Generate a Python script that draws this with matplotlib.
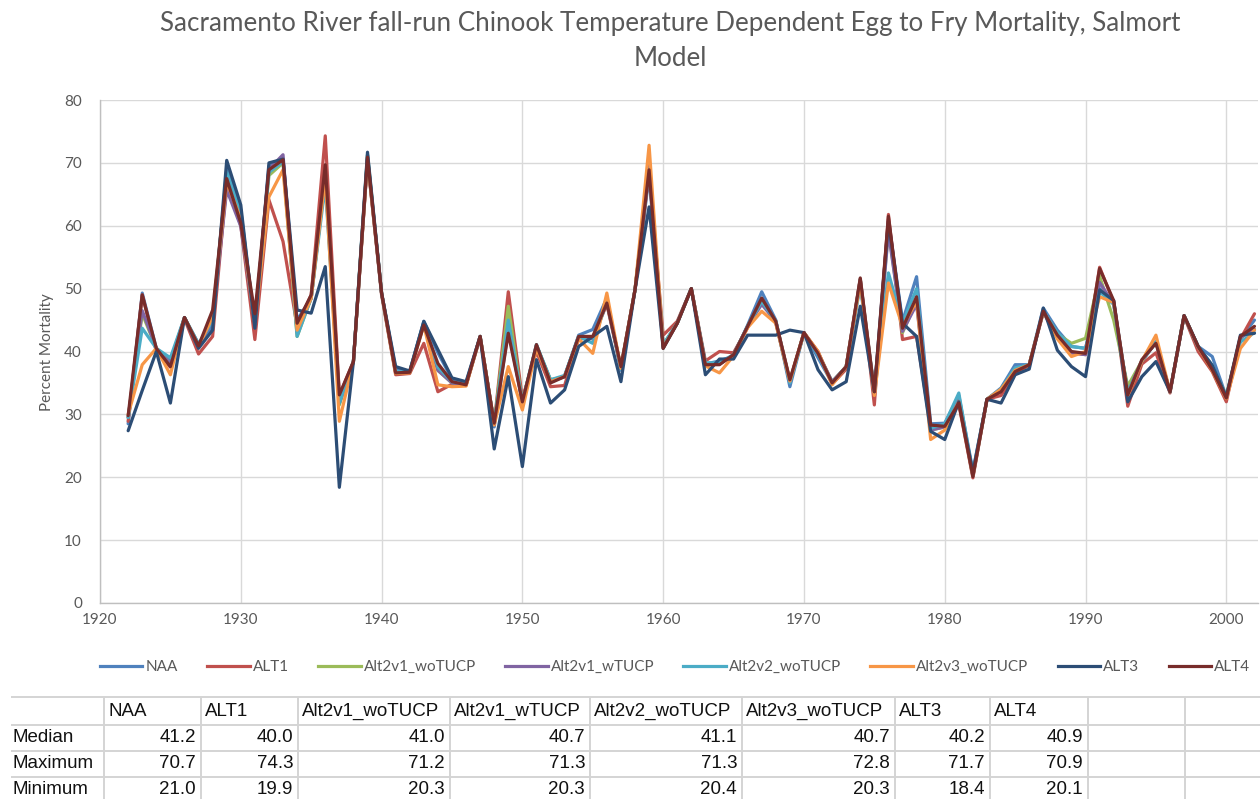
import matplotlib
matplotlib.use("Agg")
import matplotlib.pyplot as plt
from matplotlib.lines import Line2D

# Water years simulated
years = list(range(1922, 2003))

# Percent egg-to-fry mortality by scenario (one value per year, 1922-2002)
naa = [28.5, 49.3, 40.5, 38.5, 45.4, 41.2, 44.0, 69.0, 62.5, 44.0,
       69.5, 70.7, 45.0, 48.5, 68.0, 32.0, 38.4, 70.5, 49.3, 37.2,
       36.8, 44.8, 39.8, 35.6, 35.0, 42.4, 28.0, 43.5, 32.0, 41.0,
       35.3, 36.0, 42.6, 43.5, 48.5, 37.0, 49.8, 68.0, 41.0, 44.5,
       50.0, 38.0, 38.5, 39.3, 44.2, 49.5, 45.0, 34.4, 43.0, 39.0,
       35.0, 37.6, 51.0, 33.6, 61.0, 44.8, 51.9, 28.5, 28.6, 33.0,
       21.0, 32.4, 34.2, 37.9, 37.9, 46.9, 43.4, 40.8, 40.5, 50.0,
       48.0, 33.0, 38.4, 41.5, 33.6, 45.7, 40.8, 39.2, 32.8, 42.0,
       45.0]
alt1 = [28.9, 49.0, 40.0, 37.5, 45.2, 39.6, 42.4, 67.0, 60.0, 41.9,
        64.1, 57.5, 44.0, 49.0, 74.3, 33.0, 38.4, 70.5, 49.0, 36.3,
        36.5, 41.3, 33.6, 34.8, 34.6, 42.2, 28.5, 49.5, 32.5, 40.0,
        34.4, 34.6, 42.0, 42.2, 47.5, 37.3, 49.8, 68.5, 42.6, 44.8,
        50.0, 38.5, 40.0, 39.8, 43.8, 48.0, 44.5, 35.2, 43.0, 40.0,
        34.8, 37.2, 51.5, 31.5, 61.8, 41.9, 42.4, 28.0, 28.0, 31.6,
        19.9, 32.4, 33.0, 36.5, 37.8, 46.2, 42.3, 39.8, 39.5, 53.4,
        47.8, 31.3, 38.0, 39.8, 33.4, 45.6, 40.0, 36.8, 32.0, 42.0,
        46.0]
alt2v1_wo = [29.5, 46.0, 40.5, 38.0, 45.4, 41.0, 45.5, 68.0, 61.0, 44.5,
             68.0, 70.0, 42.4, 48.5, 68.5, 31.5, 38.4, 71.2, 49.3, 36.8,
             36.8, 44.5, 37.0, 35.0, 34.7, 42.4, 28.5, 47.2, 31.8, 41.0,
             35.5, 36.0, 42.4, 42.0, 48.0, 37.5, 49.8, 70.0, 41.0, 44.5,
             50.0, 38.0, 38.0, 39.5, 44.0, 48.0, 44.8, 35.3, 43.0, 39.8,
             35.2, 37.6, 51.5, 33.4, 59.5, 43.0, 48.0, 27.5, 28.0, 32.5,
             20.3, 32.4, 34.0, 37.0, 37.9, 46.4, 42.8, 41.3, 42.1, 52.0,
             45.0, 34.5, 38.5, 41.5, 33.6, 45.7, 40.8, 37.5, 33.0, 42.2,
             43.5]
alt2v1_w = [29.5, 46.5, 40.5, 38.0, 45.4, 41.0, 45.0, 65.7, 59.9, 44.5,
            69.0, 71.3, 43.0, 48.5, 68.0, 31.8, 38.4, 70.8, 49.3, 36.8,
            36.8, 44.5, 37.0, 35.0, 34.7, 42.4, 28.4, 44.5, 31.8, 40.9,
            35.4, 36.0, 42.4, 42.0, 48.0, 37.4, 49.8, 69.5, 40.8, 44.5,
            50.0, 38.0, 38.0, 39.5, 44.0, 47.5, 44.8, 35.3, 43.0, 39.8,
            35.2, 37.6, 51.5, 33.4, 59.0, 43.2, 47.5, 27.5, 28.0, 32.3,
            20.3, 32.4, 33.8, 37.0, 37.9, 46.4, 42.5, 39.8, 39.5, 51.0,
            47.5, 33.5, 38.5, 41.5, 33.6, 45.7, 40.7, 37.3, 32.8, 42.2,
            43.5]
alt2v2_wo = [29.5, 43.7, 40.5, 39.0, 45.4, 41.2, 45.0, 68.5, 62.0, 44.5,
             68.5, 70.2, 42.4, 48.5, 66.5, 31.8, 38.4, 71.3, 49.3, 36.8,
             36.8, 44.6, 37.5, 35.2, 34.8, 42.4, 28.5, 45.0, 32.0, 41.1,
             35.5, 36.2, 42.4, 41.3, 48.0, 37.2, 49.8, 69.0, 41.1, 44.5,
             50.0, 38.2, 38.2, 39.5, 44.0, 48.0, 44.8, 35.0, 43.0, 39.5,
             35.0, 37.6, 50.5, 33.5, 52.5, 44.5, 50.0, 27.8, 28.5, 33.4,
             20.4, 32.4, 34.0, 37.4, 37.9, 46.4, 43.0, 40.8, 40.5, 49.5,
             47.5, 33.5, 38.5, 41.6, 33.6, 45.7, 40.8, 37.8, 32.8, 41.5,
             43.0]
alt2v3_wo = [30.0, 37.9, 40.5, 36.3, 45.4, 40.8, 45.5, 67.0, 61.0, 44.5,
             64.6, 68.9, 43.4, 48.5, 67.8, 28.9, 38.4, 70.5, 49.3, 36.5,
             36.6, 44.2, 34.7, 34.4, 34.5, 42.4, 28.3, 37.6, 30.7, 40.5,
             35.2, 36.0, 42.0, 39.7, 49.3, 37.3, 49.8, 72.8, 40.6, 44.5,
             50.0, 37.7, 36.6, 39.3, 43.8, 46.4, 44.5, 35.3, 43.0, 40.0,
             34.7, 37.6, 51.0, 33.0, 50.9, 44.0, 48.0, 26.0, 27.5, 32.0,
             20.3, 32.4, 34.0, 37.0, 37.9, 46.4, 42.0, 39.2, 40.0, 48.7,
             47.8, 33.0, 38.5, 42.6, 33.6, 45.7, 40.7, 37.0, 32.5, 40.5,
             43.4]
alt3 = [27.4, 33.8, 40.0, 31.8, 45.4, 40.5, 43.4, 70.4, 63.3, 43.7,
        70.0, 70.6, 46.6, 46.1, 53.5, 18.4, 38.4, 71.7, 49.3, 37.6,
        36.9, 44.8, 40.3, 35.8, 35.2, 42.4, 24.5, 36.0, 21.7, 38.7,
        31.8, 33.9, 40.8, 42.4, 44.0, 35.2, 49.8, 63.0, 40.5, 44.5,
        50.0, 36.3, 38.8, 38.8, 42.6, 42.6, 42.6, 43.4, 43.0, 37.1,
        33.9, 35.2, 47.2, 33.6, 60.7, 44.5, 42.4, 27.3, 26.0, 32.0,
        20.8, 32.4, 31.8, 36.3, 37.2, 46.9, 40.2, 37.6, 36.0, 49.8,
        48.1, 32.0, 36.0, 38.4, 33.6, 45.7, 40.8, 37.8, 32.8, 42.6,
        42.9]
alt4 = [29.8, 49.0, 40.5, 37.6, 45.4, 40.9, 46.6, 67.5, 60.4, 46.0,
        68.9, 70.5, 44.5, 49.0, 69.7, 33.1, 38.4, 70.9, 49.3, 36.6,
        36.7, 44.2, 38.1, 35.2, 34.7, 42.4, 28.6, 42.9, 32.0, 41.1,
        35.0, 36.0, 42.4, 42.4, 47.7, 37.6, 49.8, 68.9, 40.5, 44.5,
        50.0, 37.9, 37.9, 39.5, 44.0, 48.5, 44.8, 35.5, 43.0, 39.7,
        35.0, 37.6, 51.7, 33.6, 61.5, 43.7, 48.7, 28.3, 28.1, 31.8,
        20.1, 32.4, 33.6, 36.8, 37.9, 46.4, 42.6, 40.0, 39.7, 53.2,
        48.1, 33.1, 38.7, 41.3, 33.6, 45.7, 40.8, 37.1, 32.6, 42.4,
        44.0]

series_names = ["NAA", "ALT1", "Alt2v1_woTUCP", "Alt2v1_wTUCP",
                "Alt2v2_woTUCP", "Alt2v3_woTUCP", "ALT3", "ALT4"]
series_values = [naa, alt1, alt2v1_wo, alt2v1_w, alt2v2_wo, alt2v3_wo, alt3, alt4]
series_colors = ["#4F81BD", "#C0504D", "#9BBB59", "#8064A2",
                 "#4BACC6", "#F79646", "#2C4D75", "#772C2A"]

# Summary statistics table
stat_rows = ["Median", "Maximum", "Minimum"]
stat_median = ["41.2", "40.0", "41.0", "40.7", "41.1", "40.7", "40.2", "40.9"]
stat_maximum = ["70.7", "74.3", "71.2", "71.3", "71.3", "72.8", "71.7", "70.9"]
stat_minimum = ["21.0", "19.9", "20.3", "20.3", "20.4", "20.3", "18.4", "20.1"]

W, H = 1260, 799
fig = plt.figure(figsize=(W / 100, H / 100), dpi=100)
fig.patch.set_facecolor("white")

TXT = "#595959"
GRID = "#D9D9D9"
base_font = ["Lato", "DejaVu Sans"]

# Plot area
ax = fig.add_axes([100 / W, 1 - 603 / H, (1258 - 100) / W, (603 - 100) / H])
for name, vals, col in zip(series_names, series_values, series_colors):
    ax.plot(years, vals, color=col, lw=2.3, solid_joinstyle="round",
            solid_capstyle="round", label=name)

ax.set_xlim(1920, 2002.25)
ax.set_ylim(0, 80)
ax.set_xticks(range(1920, 2001, 10))
ax.set_yticks(range(0, 81, 10))
ax.grid(True, color=GRID, lw=1.0)
ax.set_axisbelow(True)
for s in ["top", "right"]:
    ax.spines[s].set_visible(False)
for s in ["left", "bottom"]:
    ax.spines[s].set_color("#BFBFBF")
    ax.spines[s].set_linewidth(1.0)
ax.tick_params(length=0, labelcolor=TXT, labelsize=11)
ax.tick_params(axis="y", pad=13)
ax.tick_params(axis="x", pad=7)
for lab in ax.get_xticklabels() + ax.get_yticklabels():
    lab.set_family(base_font)

fig.text(47 / W, 1 - 352 / H, "Percent Mortality", rotation=90, ha="center",
         va="center", color=TXT, fontsize=11, family=base_font)

# Title
fig.text(670 / W, 1 - 24 / H,
         "Sacramento River fall-run Chinook Temperature Dependent Egg to Fry Mortality, Salmort",
         ha="center", va="center", color=TXT, fontsize=18.7, family=base_font)
fig.text(670 / W, 1 - 59 / H, "Model", ha="center", va="center", color=TXT,
         fontsize=18.7, family=base_font)

# Legend
handles = [Line2D([0], [0], color=c, lw=2.3) for c in series_colors]
leg = fig.legend(handles, series_names, ncol=8, loc="center",
                 bbox_to_anchor=(675 / W, 1 - 667 / H), frameon=False,
                 prop={"family": base_font, "size": 11},
                 handlelength=2.8, handletextpad=0.2, columnspacing=1.9)
for t in leg.get_texts():
    t.set_color(TXT)

# Statistics table drawn in pixel coordinates
tax = fig.add_axes([0, 0, 1, 1])
tax.set_xlim(0, W)
tax.set_ylim(H, 0)
tax.axis("off")

col_edges = [11, 104, 201, 298, 450, 590, 742, 895, 990, 1088, 1185, 1262]
row_lines = [697, 725, 751, 777]
row_centers = [711, 738, 764, 790]
TGRID = "#D4D4D4"
for y in row_lines:
    tax.plot([col_edges[0], W], [y, y], color=TGRID, lw=1.4, solid_capstyle="butt")
for x in col_edges[1:-1]:
    tax.plot([x, x], [row_lines[0], H], color=TGRID, lw=1.4, solid_capstyle="butt")

table_font = ["Liberation Sans", "DejaVu Sans"]
tfs = 13.5
for i, name in enumerate(series_names):
    tax.text(col_edges[i + 1] + 4, row_centers[0], name, ha="left", va="center",
             fontsize=tfs, family=table_font, color="#111111")
for r, (label, vals) in enumerate(zip(stat_rows, [stat_median, stat_maximum, stat_minimum])):
    yc = row_centers[r + 1]
    tax.text(col_edges[0] + 1, yc, label, ha="left", va="center", fontsize=tfs,
             family=table_font, color="#111111")
    for i, v in enumerate(vals):
        tax.text(col_edges[i + 2] - 5, yc, v, ha="right", va="center", fontsize=tfs,
                 family=table_font, color="#111111")

fig.savefig("out.png", dpi=100)
